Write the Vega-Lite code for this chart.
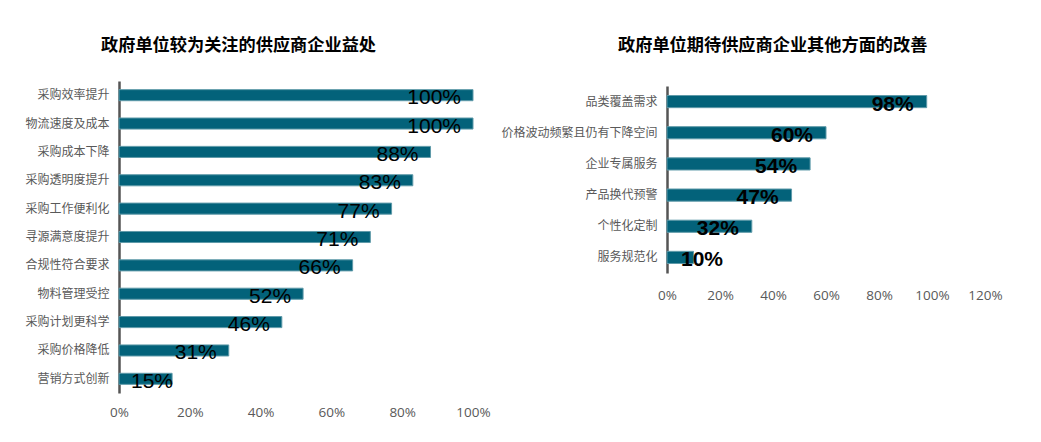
{
  "$schema": "https://vega.github.io/schema/vega-lite/v6.json",
  "padding": {"left": 24, "top": 36, "right": 5, "bottom": 5},
  "background": "white",
  "bounds": "flush",
  "spacing": 194,
  "config": {
    "view": {"stroke": null},
    "title": {"font": "Noto Sans CJK SC", "fontSize": 17.2, "fontWeight": "bold", "color": "#000000", "anchor": "start", "frame": "group"},
    "axis": {"grid": false, "ticks": false}
  },
  "datasets": {
    "benefits": [
      {"item": "采购效率提升", "value": 1.00},
      {"item": "物流速度及成本", "value": 1.00},
      {"item": "采购成本下降", "value": 0.88},
      {"item": "采购透明度提升", "value": 0.83},
      {"item": "采购工作便利化", "value": 0.77},
      {"item": "寻源满意度提升", "value": 0.71},
      {"item": "合规性符合要求", "value": 0.66},
      {"item": "物料管理受控", "value": 0.52},
      {"item": "采购计划更科学", "value": 0.46},
      {"item": "采购价格降低", "value": 0.31},
      {"item": "营销方式创新", "value": 0.15}
    ],
    "improvements": [
      {"item": "品类覆盖需求", "value": 0.98},
      {"item": "价格波动频繁且仍有下降空间", "value": 0.60},
      {"item": "企业专属服务", "value": 0.54},
      {"item": "产品换代预警", "value": 0.47},
      {"item": "个性化定制", "value": 0.32},
      {"item": "服务规范化", "value": 0.10}
    ]
  },
  "hconcat": [
    {
      "width": 354,
      "height": 312,
      "title": {"text": "政府单位较为关注的供应商企业益处", "dx": -18, "offset": 27},
      "data": {"name": "benefits"},
      "encoding": {
        "y": {
          "field": "item", "type": "nominal", "sort": null,
          "scale": {"paddingInner": 0, "paddingOuter": 0},
          "axis": {"title": null, "labelFont": "Noto Sans CJK SC", "labelFontSize": 12, "labelColor": "#595959", "labelPadding": 10, "domainColor": "#555555", "domainWidth": 2.5, "minExtent": 94, "maxExtent": 94}
        },
        "x": {
          "field": "value", "type": "quantitative",
          "scale": {"domain": [0, 1], "nice": false},
          "axis": {"title": null, "values": [0, 0.2, 0.4, 0.6, 0.8, 1.0], "format": ".0%", "domain": false, "labelFont": "Open Sans", "labelFontSize": 13.5, "labelColor": "#595959", "labelPadding": 12, "labelFlush": false}
        }
      },
      "layer": [
        {"mark": {"type": "bar", "height": {"band": 0.39}, "color": "#03627A", "stroke": "#5f9aa9", "strokeWidth": 1}},
        {"transform": [{"filter": "datum.value >= 0.2"}],
         "mark": {"type": "text", "align": "right", "baseline": "middle", "dx": -12, "dy": 3, "font": "Liberation Sans", "fontSize": 21, "color": "#000000"},
         "encoding": {"text": {"field": "value", "type": "quantitative", "format": ".0%"}}},
        {"transform": [{"filter": "datum.value < 0.2"}],
         "mark": {"type": "text", "align": "left", "baseline": "middle", "dx": 12, "dy": 3, "font": "Liberation Sans", "fontSize": 21, "color": "#000000"},
         "encoding": {"x": {"datum": 0, "type": "quantitative"}, "text": {"field": "value", "type": "quantitative", "format": ".0%"}}}
      ]
    },
    {
      "width": 318,
      "height": 192,
      "title": {"text": "政府单位期待供应商企业其他方面的改善", "dx": -49, "offset": 27},
      "data": {"name": "improvements"},
      "encoding": {
        "y": {
          "field": "item", "type": "nominal", "sort": null,
          "scale": {"paddingInner": 0, "paddingOuter": 0, "range": [5, 192]},
          "axis": {"title": null, "labelFont": "Noto Sans CJK SC", "labelFontSize": 12, "labelColor": "#595959", "labelPadding": 10, "domainColor": "#555555", "domainWidth": 2.5}
        },
        "x": {
          "field": "value", "type": "quantitative",
          "scale": {"domain": [0, 1.2], "nice": false},
          "axis": {"title": null, "values": [0, 0.2, 0.4, 0.6, 0.8, 1.0, 1.2], "format": ".0%", "domain": false, "labelFont": "Open Sans", "labelFontSize": 13.5, "labelColor": "#595959", "labelPadding": 15, "labelFlush": false}
        }
      },
      "layer": [
        {"mark": {"type": "bar", "height": {"band": 0.39}, "color": "#03627A", "stroke": "#5f9aa9", "strokeWidth": 1}},
        {"transform": [{"filter": "datum.value >= 0.2"}],
         "mark": {"type": "text", "align": "right", "baseline": "middle", "dx": -13, "dy": 3, "font": "Liberation Sans", "fontSize": 21, "fontWeight": "bold", "color": "#000000"},
         "encoding": {"text": {"field": "value", "type": "quantitative", "format": ".0%"}}},
        {"transform": [{"filter": "datum.value < 0.2"}],
         "mark": {"type": "text", "align": "left", "baseline": "middle", "dx": 14, "dy": 3, "font": "Liberation Sans", "fontSize": 21, "fontWeight": "bold", "color": "#000000"},
         "encoding": {"x": {"datum": 0, "type": "quantitative"}, "text": {"field": "value", "type": "quantitative", "format": ".0%"}}}
      ]
    }
  ]
}
